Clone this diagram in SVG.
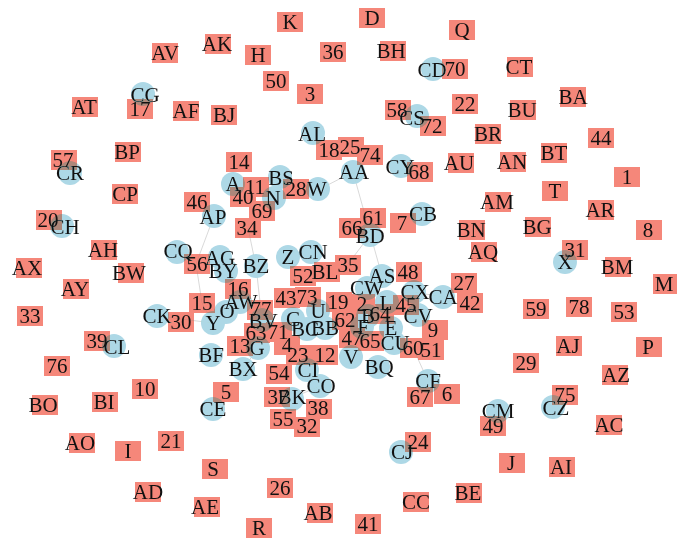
<svg xmlns="http://www.w3.org/2000/svg" width="677" height="540" viewBox="0 0 677 540">
<style>
.s rect{fill:#F5877A;mix-blend-mode:darken}
.c circle{fill:#ADD8E6;mix-blend-mode:darken}
text{font-family:"Liberation Serif","Times New Roman",serif;font-size:21px;fill:#111;text-anchor:middle}
#edges line{stroke:#cfcfcf;stroke-width:0.8}
</style>
<rect width="677" height="540" fill="#fff"/>
<g id="edges">
<line x1="353" y1="172" x2="382" y2="276"/>
<line x1="370" y1="235" x2="348" y2="264"/>
<line x1="214" y1="216" x2="196" y2="264"/>
<line x1="196" y1="264" x2="202" y2="303"/>
<line x1="248" y1="228" x2="256" y2="266"/>
<line x1="256" y1="266" x2="262" y2="320"/>
<line x1="157" y1="316" x2="213" y2="323"/>
<line x1="202" y1="303" x2="213" y2="323"/>
<line x1="258" y1="348" x2="243" y2="369"/>
<line x1="414" y1="292" x2="443" y2="297"/>
<line x1="418" y1="315" x2="435" y2="330"/>
<line x1="394" y1="343" x2="413" y2="348"/>
<line x1="428" y1="381" x2="413" y2="348"/>
<line x1="292" y1="398" x2="320" y2="386"/>
<line x1="382" y1="276" x2="367" y2="288"/>
<line x1="318" y1="190" x2="353" y2="172"/>
</g>
<g id="CG" class="c"><circle cx="143" cy="94" r="12"/><text x="145" y="102">CG</text></g>
<g id="CD" class="c"><circle cx="433" cy="69" r="12"/><text x="432" y="77">CD</text></g>
<g id="CS" class="c"><circle cx="417" cy="116" r="12"/><text x="412" y="125">CS</text></g>
<g id="AL" class="c"><circle cx="313" cy="133" r="12"/><text x="312" y="141">AL</text></g>
<g id="AA" class="c"><circle cx="353" cy="172" r="12"/><text x="354" y="179">AA</text></g>
<g id="CY" class="c"><circle cx="401" cy="166" r="12"/><text x="400" y="174">CY</text></g>
<g id="CR" class="c"><circle cx="70" cy="173" r="12"/><text x="70" y="180">CR</text></g>
<g id="BS" class="c"><circle cx="280" cy="177" r="12"/><text x="281" y="185">BS</text></g>
<g id="A" class="c"><circle cx="233" cy="184" r="12"/><text x="233" y="191">A</text></g>
<g id="N" class="c"><circle cx="274" cy="198" r="12"/><text x="273" y="205">N</text></g>
<g id="W" class="c"><circle cx="318" cy="189" r="12"/><text x="317" y="196">W</text></g>
<g id="AP" class="c"><circle cx="214" cy="216" r="12"/><text x="213" y="224">AP</text></g>
<g id="CH" class="c"><circle cx="62" cy="226" r="12"/><text x="65" y="234">CH</text></g>
<g id="CQ" class="c"><circle cx="177" cy="252" r="12"/><text x="178" y="258">CQ</text></g>
<g id="AG" class="c"><circle cx="220" cy="257" r="12"/><text x="220" y="265">AG</text></g>
<g id="BY" class="c"><circle cx="226" cy="271" r="12"/><text x="223" y="278">BY</text></g>
<g id="BZ" class="c"><circle cx="256" cy="266" r="12"/><text x="256" y="273">BZ</text></g>
<g id="Z" class="c"><circle cx="288" cy="257" r="12"/><text x="288" y="264">Z</text></g>
<g id="CN" class="c"><circle cx="311" cy="252" r="12"/><text x="313" y="259">CN</text></g>
<g id="CB" class="c"><circle cx="422" cy="214" r="12"/><text x="423" y="221">CB</text></g>
<g id="BD" class="c"><circle cx="370" cy="235" r="12"/><text x="370" y="243">BD</text></g>
<g id="AS" class="c"><circle cx="382" cy="276" r="12"/><text x="382" y="283">AS</text></g>
<g id="CW" class="c"><circle cx="367" cy="288" r="12"/><text x="367" y="295">CW</text></g>
<g id="CX" class="c"><circle cx="414" cy="292" r="12"/><text x="415" y="299">CX</text></g>
<g id="CA" class="c"><circle cx="443" cy="297" r="12"/><text x="443" y="304">CA</text></g>
<g id="L" class="c"><circle cx="387" cy="302" r="12"/><text x="386" y="310">L</text></g>
<g id="B" class="c"><circle cx="368" cy="316" r="12"/><text x="368" y="323">B</text></g>
<g id="CV" class="c"><circle cx="418" cy="315" r="12"/><text x="418" y="323">CV</text></g>
<g id="F" class="c"><circle cx="362" cy="327" r="12"/><text x="363" y="334">F</text></g>
<g id="E" class="c"><circle cx="391" cy="328" r="12"/><text x="391" y="335">E</text></g>
<g id="CU" class="c"><circle cx="394" cy="343" r="12"/><text x="395" y="350">CU</text></g>
<g id="V" class="c"><circle cx="351" cy="357" r="12"/><text x="351" y="364">V</text></g>
<g id="BQ" class="c"><circle cx="378" cy="367" r="12"/><text x="379" y="374">BQ</text></g>
<g id="O" class="c"><circle cx="226" cy="312" r="12"/><text x="227" y="318">O</text></g>
<g id="AW" class="c"><circle cx="240" cy="302" r="12"/><text x="241" y="309">AW</text></g>
<g id="Y" class="c"><circle cx="213" cy="323" r="12"/><text x="213" y="330">Y</text></g>
<g id="BV" class="c"><circle cx="262" cy="320" r="12"/><text x="263" y="328">BV</text></g>
<g id="C" class="c"><circle cx="293" cy="319" r="12"/><text x="293" y="326">C</text></g>
<g id="U" class="c"><circle cx="318" cy="311" r="12"/><text x="318" y="318">U</text></g>
<g id="BC" class="c"><circle cx="307" cy="329" r="12"/><text x="305" y="336">BC</text></g>
<g id="BB" class="c"><circle cx="325" cy="328" r="12"/><text x="325" y="335">BB</text></g>
<g id="G" class="c"><circle cx="258" cy="348" r="12"/><text x="257" y="355">G</text></g>
<g id="CK" class="c"><circle cx="157" cy="316" r="12"/><text x="157" y="323">CK</text></g>
<g id="CL" class="c"><circle cx="114" cy="346" r="12"/><text x="117" y="354">CL</text></g>
<g id="BF" class="c"><circle cx="211" cy="355" r="12"/><text x="211" y="362">BF</text></g>
<g id="BX" class="c"><circle cx="243" cy="369" r="12"/><text x="243" y="376">BX</text></g>
<g id="CI" class="c"><circle cx="307" cy="370" r="12"/><text x="308" y="377">CI</text></g>
<g id="CO" class="c"><circle cx="320" cy="386" r="12"/><text x="321" y="393">CO</text></g>
<g id="BK" class="c"><circle cx="292" cy="399" r="12"/><text x="292" y="404">BK</text></g>
<g id="CE" class="c"><circle cx="213" cy="409" r="12"/><text x="213" y="416">CE</text></g>
<g id="CF" class="c"><circle cx="428" cy="381" r="12"/><text x="428" y="388">CF</text></g>
<g id="CM" class="c"><circle cx="498" cy="411" r="12"/><text x="498" y="418">CM</text></g>
<g id="CZ" class="c"><circle cx="553" cy="407" r="12"/><text x="556" y="415">CZ</text></g>
<g id="CJ" class="c"><circle cx="401" cy="452" r="12"/><text x="402" y="459">CJ</text></g>
<g id="X" class="c"><circle cx="565" cy="262" r="12"/><text x="565" y="269">X</text></g>
<g id="K" class="s"><rect x="277" y="12" width="26" height="20"/><text x="290" y="29">K</text></g>
<g id="D" class="s"><rect x="359" y="8" width="26" height="20"/><text x="372" y="25">D</text></g>
<g id="Q" class="s"><rect x="449" y="20" width="26" height="20"/><text x="462" y="37">Q</text></g>
<g id="AV" class="s"><rect x="152" y="43" width="26" height="20"/><text x="165" y="60">AV</text></g>
<g id="AK" class="s"><rect x="205" y="34" width="26" height="20"/><text x="217" y="51">AK</text></g>
<g id="H" class="s"><rect x="245" y="45" width="26" height="20"/><text x="258" y="62">H</text></g>
<g id="n36" class="s"><rect x="320" y="42" width="26" height="20"/><text x="333" y="59">36</text></g>
<g id="BH" class="s"><rect x="380" y="41" width="26" height="20"/><text x="391" y="58">BH</text></g>
<g id="n70" class="s"><rect x="442" y="59" width="26" height="20"/><text x="455" y="76">70</text></g>
<g id="CT" class="s"><rect x="507" y="57" width="26" height="20"/><text x="519" y="74">CT</text></g>
<g id="AT" class="s"><rect x="72" y="97" width="26" height="20"/><text x="84" y="114">AT</text></g>
<g id="n17" class="s"><rect x="127" y="99" width="26" height="20"/><text x="140" y="116">17</text></g>
<g id="AF" class="s"><rect x="173" y="101" width="26" height="20"/><text x="186" y="118">AF</text></g>
<g id="BJ" class="s"><rect x="211" y="105" width="26" height="20"/><text x="224" y="122">BJ</text></g>
<g id="n50" class="s"><rect x="263" y="71" width="26" height="20"/><text x="276" y="88">50</text></g>
<g id="n3" class="s"><rect x="297" y="84" width="26" height="20"/><text x="310" y="101">3</text></g>
<g id="n22" class="s"><rect x="452" y="94" width="26" height="20"/><text x="465" y="111">22</text></g>
<g id="n58" class="s"><rect x="385" y="100" width="26" height="20"/><text x="397" y="117">58</text></g>
<g id="BU" class="s"><rect x="510" y="100" width="26" height="20"/><text x="522" y="117">BU</text></g>
<g id="BA" class="s"><rect x="560" y="87" width="26" height="20"/><text x="573" y="104">BA</text></g>
<g id="BR" class="s"><rect x="475" y="124" width="26" height="20"/><text x="488" y="141">BR</text></g>
<g id="n44" class="s"><rect x="588" y="128" width="26" height="20"/><text x="601" y="145">44</text></g>
<g id="BP" class="s"><rect x="115" y="142" width="26" height="20"/><text x="127" y="159">BP</text></g>
<g id="n57" class="s"><rect x="51" y="150" width="26" height="20"/><text x="63" y="167">57</text></g>
<g id="n18" class="s"><rect x="316" y="140" width="26" height="20"/><text x="329" y="157">18</text></g>
<g id="n25" class="s"><rect x="338" y="137" width="26" height="20"/><text x="350" y="154">25</text></g>
<g id="n74" class="s"><rect x="357" y="145" width="26" height="20"/><text x="370" y="162">74</text></g>
<g id="AU" class="s"><rect x="448" y="153" width="26" height="20"/><text x="459" y="170">AU</text></g>
<g id="AN" class="s"><rect x="500" y="152" width="26" height="20"/><text x="512" y="169">AN</text></g>
<g id="BT" class="s"><rect x="541" y="143" width="26" height="20"/><text x="554" y="160">BT</text></g>
<g id="n1" class="s"><rect x="614" y="167" width="26" height="20"/><text x="627" y="184">1</text></g>
<g id="n14" class="s"><rect x="226" y="152" width="26" height="20"/><text x="239" y="169">14</text></g>
<g id="n28" class="s"><rect x="283" y="179" width="26" height="20"/><text x="296" y="196">28</text></g>
<g id="CP" class="s"><rect x="112" y="184" width="26" height="20"/><text x="125" y="201">CP</text></g>
<g id="n20" class="s"><rect x="36" y="210" width="26" height="20"/><text x="48" y="227">20</text></g>
<g id="AH" class="s"><rect x="91" y="240" width="26" height="20"/><text x="103" y="257">AH</text></g>
<g id="AX" class="s"><rect x="16" y="258" width="26" height="20"/><text x="27" y="275">AX</text></g>
<g id="BW" class="s"><rect x="118" y="263" width="26" height="20"/><text x="129" y="280">BW</text></g>
<g id="AY" class="s"><rect x="63" y="279" width="26" height="20"/><text x="75" y="296">AY</text></g>
<g id="n33" class="s"><rect x="17" y="306" width="26" height="20"/><text x="30" y="323">33</text></g>
<g id="n39" class="s"><rect x="84" y="331" width="26" height="20"/><text x="97" y="348">39</text></g>
<g id="n76" class="s"><rect x="44" y="356" width="26" height="20"/><text x="57" y="373">76</text></g>
<g id="BO" class="s"><rect x="32" y="395" width="26" height="20"/><text x="43" y="412">BO</text></g>
<g id="BI" class="s"><rect x="92" y="392" width="26" height="20"/><text x="104" y="409">BI</text></g>
<g id="n10" class="s"><rect x="132" y="379" width="26" height="20"/><text x="145" y="396">10</text></g>
<g id="AO" class="s"><rect x="69" y="433" width="26" height="20"/><text x="80" y="450">AO</text></g>
<g id="I" class="s"><rect x="115" y="441" width="26" height="20"/><text x="128" y="458">I</text></g>
<g id="n21" class="s"><rect x="158" y="431" width="26" height="20"/><text x="171" y="448">21</text></g>
<g id="AD" class="s"><rect x="135" y="482" width="26" height="20"/><text x="148" y="499">AD</text></g>
<g id="S" class="s"><rect x="202" y="459" width="26" height="20"/><text x="213" y="476">S</text></g>
<g id="n26" class="s"><rect x="267" y="478" width="26" height="20"/><text x="280" y="495">26</text></g>
<g id="AE" class="s"><rect x="194" y="497" width="26" height="20"/><text x="205" y="514">AE</text></g>
<g id="AB" class="s"><rect x="307" y="503" width="26" height="20"/><text x="318" y="520">AB</text></g>
<g id="R" class="s"><rect x="246" y="518" width="26" height="20"/><text x="259" y="535">R</text></g>
<g id="n41" class="s"><rect x="355" y="514" width="26" height="20"/><text x="368" y="531">41</text></g>
<g id="CC" class="s"><rect x="403" y="492" width="26" height="20"/><text x="416" y="509">CC</text></g>
<g id="BE" class="s"><rect x="456" y="483" width="26" height="20"/><text x="468" y="500">BE</text></g>
<g id="J" class="s"><rect x="499" y="453" width="26" height="20"/><text x="511" y="470">J</text></g>
<g id="AI" class="s"><rect x="549" y="457" width="26" height="20"/><text x="561" y="474">AI</text></g>
<g id="AC" class="s"><rect x="596" y="415" width="26" height="20"/><text x="609" y="432">AC</text></g>
<g id="AZ" class="s"><rect x="602" y="365" width="26" height="20"/><text x="616" y="382">AZ</text></g>
<g id="n75" class="s"><rect x="552" y="385" width="26" height="20"/><text x="565" y="402">75</text></g>
<g id="n29" class="s"><rect x="513" y="353" width="26" height="20"/><text x="526" y="370">29</text></g>
<g id="n49" class="s"><rect x="480" y="416" width="26" height="20"/><text x="493" y="433">49</text></g>
<g id="n24" class="s"><rect x="405" y="432" width="26" height="20"/><text x="418" y="449">24</text></g>
<g id="n67" class="s"><rect x="407" y="387" width="26" height="20"/><text x="420" y="404">67</text></g>
<g id="n6" class="s"><rect x="434" y="384" width="26" height="20"/><text x="447" y="401">6</text></g>
<g id="AJ" class="s"><rect x="556" y="336" width="26" height="20"/><text x="568" y="353">AJ</text></g>
<g id="P" class="s"><rect x="636" y="337" width="26" height="20"/><text x="648" y="354">P</text></g>
<g id="n59" class="s"><rect x="523" y="299" width="26" height="20"/><text x="536" y="316">59</text></g>
<g id="n78" class="s"><rect x="566" y="297" width="26" height="20"/><text x="579" y="314">78</text></g>
<g id="n53" class="s"><rect x="611" y="302" width="26" height="20"/><text x="624" y="319">53</text></g>
<g id="M" class="s"><rect x="653" y="274" width="26" height="20"/><text x="664" y="291">M</text></g>
<g id="BM" class="s"><rect x="605" y="257" width="26" height="20"/><text x="617" y="274">BM</text></g>
<g id="n31" class="s"><rect x="562" y="240" width="26" height="20"/><text x="575" y="257">31</text></g>
<g id="n8" class="s"><rect x="636" y="220" width="26" height="20"/><text x="648" y="237">8</text></g>
<g id="AR" class="s"><rect x="588" y="200" width="26" height="20"/><text x="600" y="217">AR</text></g>
<g id="T" class="s"><rect x="542" y="181" width="26" height="20"/><text x="555" y="198">T</text></g>
<g id="BG" class="s"><rect x="525" y="217" width="26" height="20"/><text x="537" y="234">BG</text></g>
<g id="AM" class="s"><rect x="485" y="192" width="26" height="20"/><text x="497" y="209">AM</text></g>
<g id="BN" class="s"><rect x="459" y="220" width="26" height="20"/><text x="471" y="237">BN</text></g>
<g id="AQ" class="s"><rect x="471" y="242" width="26" height="20"/><text x="483" y="259">AQ</text></g>
<g id="n27" class="s"><rect x="451" y="273" width="26" height="20"/><text x="464" y="290">27</text></g>
<g id="n42" class="s"><rect x="457" y="293" width="26" height="20"/><text x="470" y="310">42</text></g>
<g id="n7" class="s"><rect x="390" y="213" width="26" height="20"/><text x="402" y="230">7</text></g>
<g id="n66" class="s"><rect x="339" y="218" width="26" height="20"/><text x="352" y="235">66</text></g>
<g id="n61" class="s"><rect x="360" y="208" width="26" height="20"/><text x="373" y="225">61</text></g>
<g id="n35" class="s"><rect x="335" y="255" width="26" height="20"/><text x="348" y="272">35</text></g>
<g id="n48" class="s"><rect x="396" y="262" width="26" height="20"/><text x="408" y="279">48</text></g>
<g id="n46" class="s"><rect x="184" y="192" width="26" height="20"/><text x="197" y="209">46</text></g>
<g id="n11" class="s"><rect x="243" y="177" width="26" height="20"/><text x="255" y="194">11</text></g>
<g id="n40" class="s"><rect x="230" y="187" width="26" height="20"/><text x="243" y="204">40</text></g>
<g id="n69" class="s"><rect x="249" y="201" width="26" height="20"/><text x="262" y="218">69</text></g>
<g id="n34" class="s"><rect x="235" y="218" width="26" height="20"/><text x="247" y="235">34</text></g>
<g id="n56" class="s"><rect x="184" y="254" width="26" height="20"/><text x="197" y="271">56</text></g>
<g id="n15" class="s"><rect x="189" y="293" width="26" height="20"/><text x="202" y="310">15</text></g>
<g id="n30" class="s"><rect x="168" y="312" width="26" height="20"/><text x="181" y="329">30</text></g>
<g id="n16" class="s"><rect x="225" y="279" width="26" height="20"/><text x="238" y="296">16</text></g>
<g id="n52" class="s"><rect x="290" y="266" width="26" height="20"/><text x="303" y="283">52</text></g>
<g id="BL" class="s"><rect x="314" y="262" width="26" height="20"/><text x="325" y="279">BL</text></g>
<g id="n43" class="s"><rect x="274" y="288" width="26" height="20"/><text x="286" y="305">43</text></g>
<g id="n73" class="s"><rect x="295" y="287" width="26" height="20"/><text x="307" y="304">73</text></g>
<g id="n19" class="s"><rect x="326" y="292" width="26" height="20"/><text x="338" y="309">19</text></g>
<g id="n77" class="s"><rect x="247" y="300" width="26" height="20"/><text x="261" y="316">77</text></g>
<g id="n63" class="s"><rect x="244" y="323" width="26" height="20"/><text x="256" y="340">63</text></g>
<g id="n71" class="s"><rect x="266" y="322" width="26" height="20"/><text x="278" y="339">71</text></g>
<g id="n13" class="s"><rect x="227" y="336" width="26" height="20"/><text x="240" y="353">13</text></g>
<g id="n4" class="s"><rect x="274" y="335" width="26" height="20"/><text x="287" y="352">4</text></g>
<g id="n23" class="s"><rect x="286" y="345" width="26" height="20"/><text x="298" y="362">23</text></g>
<g id="n12" class="s"><rect x="312" y="345" width="26" height="20"/><text x="325" y="362">12</text></g>
<g id="n54" class="s"><rect x="266" y="364" width="26" height="20"/><text x="279" y="380">54</text></g>
<g id="n37" class="s"><rect x="264" y="387" width="26" height="20"/><text x="278" y="404">37</text></g>
<g id="n38" class="s"><rect x="306" y="399" width="26" height="20"/><text x="318" y="415">38</text></g>
<g id="n55" class="s"><rect x="270" y="409" width="26" height="20"/><text x="283" y="426">55</text></g>
<g id="n32" class="s"><rect x="294" y="417" width="26" height="20"/><text x="307" y="433">32</text></g>
<g id="n5" class="s"><rect x="213" y="382" width="26" height="20"/><text x="226" y="399">5</text></g>
<g id="n2" class="s"><rect x="349" y="294" width="26" height="20"/><text x="362" y="311">2</text></g>
<g id="n62" class="s"><rect x="332" y="310" width="26" height="20"/><text x="345" y="327">62</text></g>
<g id="n47" class="s"><rect x="339" y="328" width="26" height="20"/><text x="352" y="345">47</text></g>
<g id="n64" class="s"><rect x="368" y="304" width="26" height="20"/><text x="380" y="321">64</text></g>
<g id="n45" class="s"><rect x="393" y="295" width="26" height="20"/><text x="406" y="312">45</text></g>
<g id="n9" class="s"><rect x="422" y="320" width="26" height="20"/><text x="433" y="337">9</text></g>
<g id="n65" class="s"><rect x="358" y="331" width="26" height="20"/><text x="370" y="348">65</text></g>
<g id="n60" class="s"><rect x="400" y="338" width="26" height="20"/><text x="413" y="355">60</text></g>
<g id="n51" class="s"><rect x="418" y="340" width="26" height="20"/><text x="431" y="357">51</text></g>
<g id="n72" class="s"><rect x="420" y="116" width="26" height="20"/><text x="432" y="133">72</text></g>
<g id="n68" class="s"><rect x="407" y="162" width="26" height="20"/><text x="419" y="179">68</text></g>
</svg>
